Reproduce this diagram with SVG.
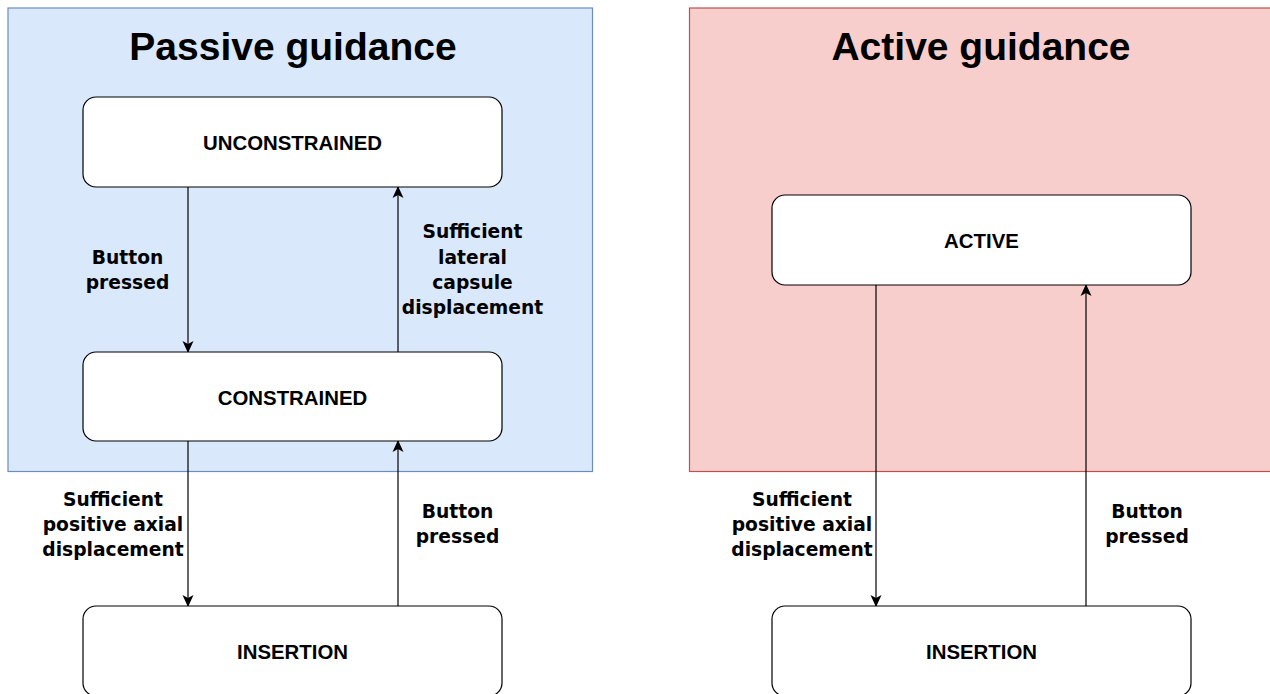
<svg xmlns="http://www.w3.org/2000/svg" width="1270" height="694" viewBox="0 0 1270 694">
<style>
.title{font-family:"Liberation Sans",Arial,sans-serif;font-weight:bold;font-size:39px;fill:#000;text-anchor:middle}
.node rect{fill:#fff;stroke:#000;stroke-width:1.2}
.node text{font-family:"Liberation Sans",Arial,sans-serif;font-weight:bold;font-size:20.4px;fill:#000;text-anchor:middle}
.lbl{font-family:"DejaVu Sans",Verdana,sans-serif;font-weight:bold;font-size:18.7px;fill:#000;text-anchor:middle}
.edge{stroke:#000;stroke-width:1.2;fill:none;marker-end:url(#arr)}
</style>
<defs>
<marker id="arr" viewBox="0 0 12 12" refX="11" refY="6" markerWidth="12" markerHeight="12" markerUnits="userSpaceOnUse" orient="auto">
<path d="M0,0.5 L12,6 L0,11.5 L3,6 z" fill="#000"/>
</marker>
</defs>
<rect width="1270" height="694" fill="#fff"/>
<g id="passive-group">
<rect x="8" y="8" width="584.5" height="463.5" fill="#dae8fc" stroke="#6c8ebf" stroke-width="1.2"/>
<text class="title" x="293" y="60">Passive guidance</text>
</g>
<g id="active-group">
<rect x="689.5" y="8" width="590" height="463.5" fill="#f8cecc" stroke="#b85450" stroke-width="1.2"/>
<text class="title" x="981" y="60">Active guidance</text>
</g>
<g id="connectors">
<line class="edge" x1="188" y1="187" x2="188" y2="352"/>
<line class="edge" x1="398" y1="352" x2="398" y2="187"/>
<line class="edge" x1="188" y1="441" x2="188" y2="606"/>
<line class="edge" x1="398" y1="606" x2="398" y2="441"/>
<line class="edge" x1="876" y1="285" x2="876" y2="606"/>
<line class="edge" x1="1086" y1="606" x2="1086" y2="285"/>
<text class="lbl" x="127.5" y="263.5">Button</text>
<text class="lbl" x="127.5" y="289">pressed</text>
<text class="lbl" x="472.5" y="238">Sufficient</text>
<text class="lbl" x="472.5" y="263.5">lateral</text>
<text class="lbl" x="472.5" y="289">capsule</text>
<text class="lbl" x="472.5" y="314">displacement</text>
<text class="lbl" x="113" y="505.5">Sufficient</text>
<text class="lbl" x="113" y="530.5">positive axial</text>
<text class="lbl" x="113" y="555.5">displacement</text>
<text class="lbl" x="457.5" y="518">Button</text>
<text class="lbl" x="457.5" y="543">pressed</text>
<text class="lbl" x="802" y="505.5">Sufficient</text>
<text class="lbl" x="802" y="530.5">positive axial</text>
<text class="lbl" x="802" y="555.5">displacement</text>
<text class="lbl" x="1147" y="518">Button</text>
<text class="lbl" x="1147" y="543">pressed</text>
</g>
<g id="unconstrained" class="node">
<rect x="83" y="97" width="419" height="90" rx="13"/>
<text x="292.5" y="149.5">UNCONSTRAINED</text>
</g>
<g id="constrained" class="node">
<rect x="83" y="352" width="419" height="89" rx="13"/>
<text x="292.5" y="404.5">CONSTRAINED</text>
</g>
<g id="insertion-passive" class="node">
<rect x="83" y="606" width="419" height="90" rx="13"/>
<text x="292.5" y="659">INSERTION</text>
</g>
<g id="active" class="node">
<rect x="772" y="195" width="419" height="90" rx="13"/>
<text x="981.5" y="247.5">ACTIVE</text>
</g>
<g id="insertion-active" class="node">
<rect x="772" y="606" width="419" height="90" rx="13"/>
<text x="981.5" y="659">INSERTION</text>
</g>
</svg>
